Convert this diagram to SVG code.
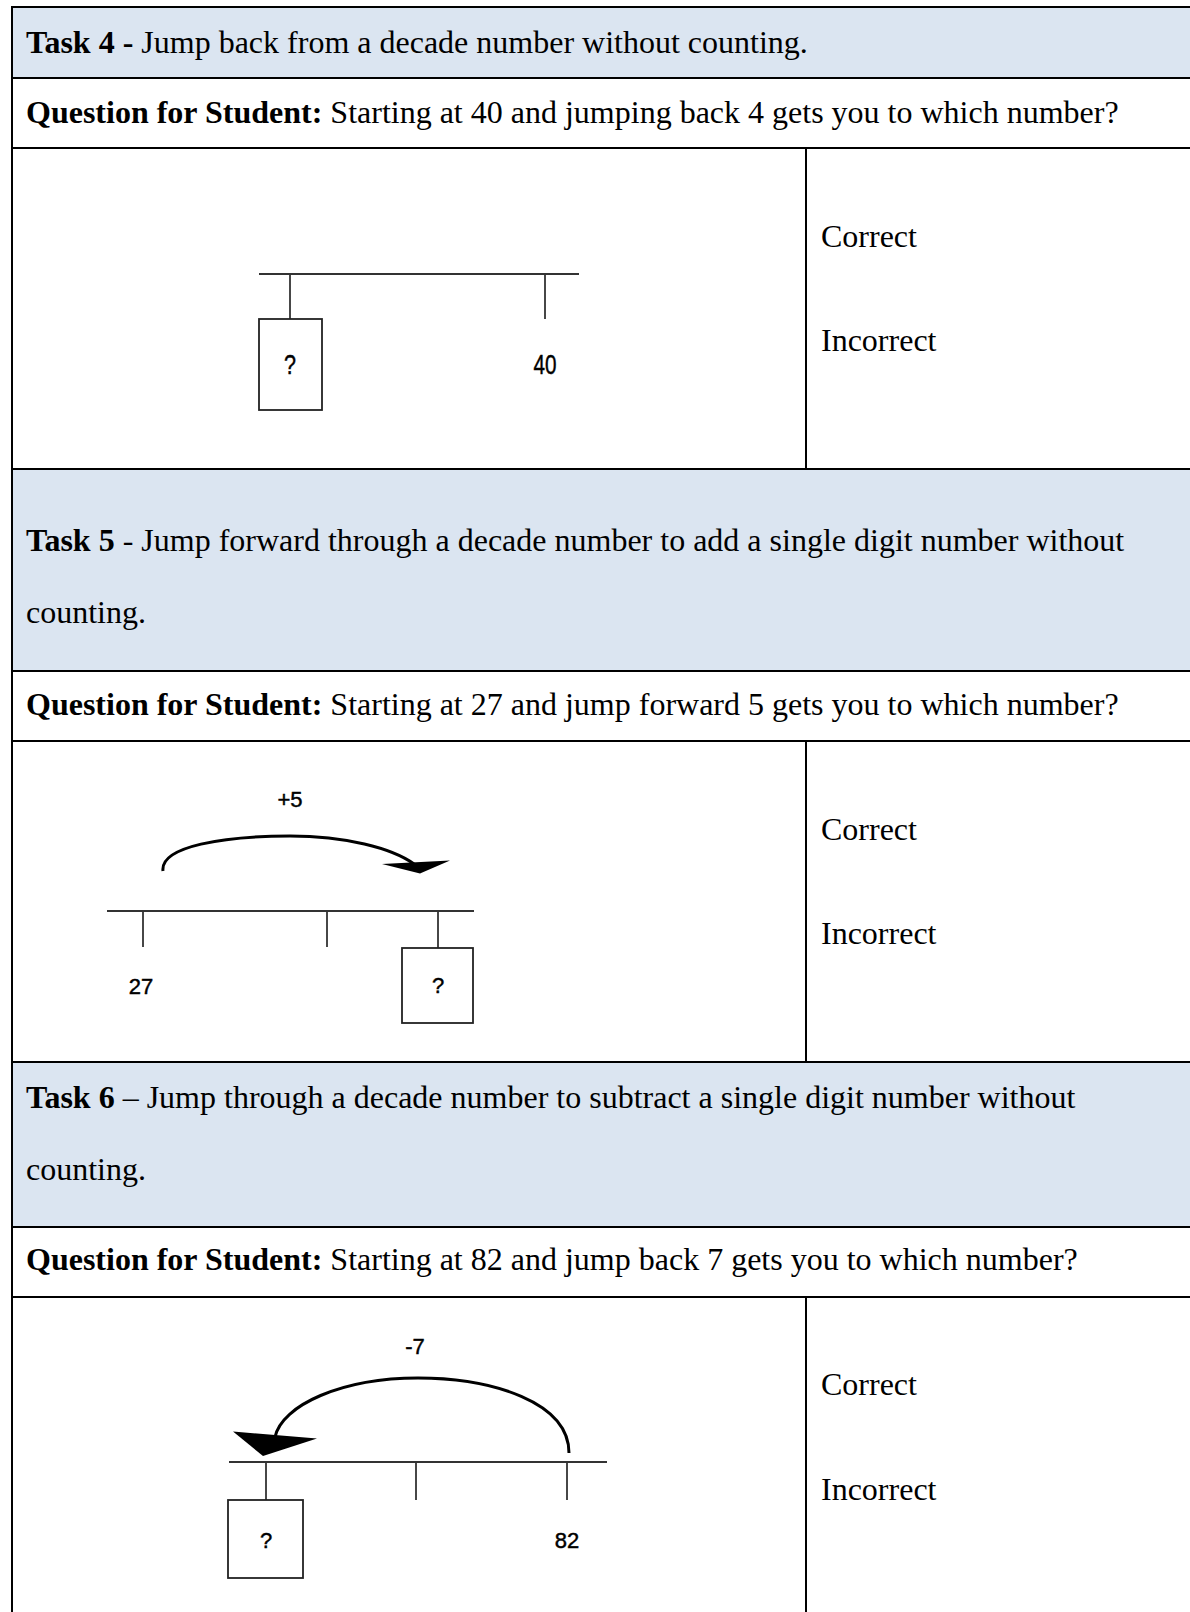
<svg xmlns="http://www.w3.org/2000/svg" width="1190" height="1612" viewBox="0 0 1190 1612">
<style>
.t{font-family:"Liberation Serif","Times New Roman",serif;font-size:32px;fill:#000}
.b{font-weight:bold}
.s{font-family:"Liberation Sans",Arial,sans-serif;font-size:22px;fill:#000;stroke:#000;stroke-width:0.45;text-anchor:middle}
.g{fill:none;stroke:#000;stroke-width:2}
.hd{fill:#DBE5F1}
.nl{stroke:#333;stroke-width:2;fill:none}
.tk{stroke:#333;stroke-width:1.8;fill:none}
.bx{fill:#fff;stroke:#222;stroke-width:1.8}
.arc{fill:none;stroke:#000;stroke-width:3}
</style>
<rect width="1190" height="1612" fill="#fff"/>
<g id="backgrounds">
<rect class="hd" x="12" y="7" width="1180" height="71"/>
<rect class="hd" x="12" y="469" width="1180" height="202"/>
<rect class="hd" x="12" y="1062" width="1180" height="165"/>
</g>
<g id="grid">
<line class="g" x1="12" y1="7" x2="1192" y2="7"/>
<line class="g" x1="12" y1="78" x2="1192" y2="78"/>
<line class="g" x1="12" y1="148" x2="1192" y2="148"/>
<line class="g" x1="12" y1="469" x2="1192" y2="469"/>
<line class="g" x1="12" y1="671" x2="1192" y2="671"/>
<line class="g" x1="12" y1="741" x2="1192" y2="741"/>
<line class="g" x1="12" y1="1062" x2="1192" y2="1062"/>
<line class="g" x1="12" y1="1227" x2="1192" y2="1227"/>
<line class="g" x1="12" y1="1297" x2="1192" y2="1297"/>
<line class="g" x1="12" y1="6" x2="12" y2="1612"/>
<line class="g" x1="806" y1="148" x2="806" y2="469"/>
<line class="g" x1="806" y1="741" x2="806" y2="1062"/>
<line class="g" x1="806" y1="1297" x2="806" y2="1612"/>
</g>
<g id="task4">
<text class="t" x="26" y="53"><tspan class="b">Task 4 -</tspan> Jump back from a decade number without counting.</text>
<text class="t" x="26" y="123"><tspan class="b">Question for Student:</tspan> Starting at 40 and jumping back 4 gets you to which number?</text>
<text class="t" x="821" y="247">Correct</text>
<text class="t" x="821" y="351">Incorrect</text>
</g>
<g id="numberline4">
<line class="nl" x1="259" y1="274" x2="579" y2="274"/>
<line class="tk" x1="290" y1="274" x2="290" y2="319"/>
<line class="tk" x1="545" y1="274" x2="545" y2="319"/>
<rect class="bx" x="259" y="319" width="63" height="91"/>
<text class="s" x="290" y="374" style="font-size:28px" textLength="12" lengthAdjust="spacingAndGlyphs">?</text>
<text class="s" x="545" y="374" style="font-size:28px" textLength="23" lengthAdjust="spacingAndGlyphs">40</text>
</g>
<g id="task5">
<text class="t" x="26" y="551"><tspan class="b">Task 5</tspan> - Jump forward through a decade number to add a single digit number without</text>
<text class="t" x="26" y="623">counting.</text>
<text class="t" x="26" y="715"><tspan class="b">Question for Student:</tspan> Starting at 27 and jump forward 5 gets you to which number?</text>
<text class="t" x="821" y="840">Correct</text>
<text class="t" x="821" y="944">Incorrect</text>
</g>
<g id="numberline5">
<line class="nl" x1="107" y1="911" x2="474" y2="911"/>
<line class="tk" x1="143" y1="911" x2="143" y2="947"/>
<line class="tk" x1="327" y1="911" x2="327" y2="947"/>
<line class="tk" x1="438" y1="911" x2="438" y2="948"/>
<rect class="bx" x="402" y="948" width="71" height="75"/>
<text class="s" x="438" y="993">?</text>
<text class="s" x="141" y="994">27</text>
<text class="s" x="290" y="807">+5</text>
</g>
<g id="task6">
<text class="t" x="26" y="1108"><tspan class="b">Task 6</tspan> – Jump through a decade number to subtract a single digit number without</text>
<text class="t" x="26" y="1180">counting.</text>
<text class="t" x="26" y="1270"><tspan class="b">Question for Student:</tspan> Starting at 82 and jump back 7 gets you to which number?</text>
<text class="t" x="821" y="1395">Correct</text>
<text class="t" x="821" y="1500">Incorrect</text>
</g>
<g id="numberline6">
<line class="nl" x1="229" y1="1462" x2="607" y2="1462"/>
<line class="tk" x1="266" y1="1462" x2="266" y2="1500"/>
<line class="tk" x1="416" y1="1462" x2="416" y2="1500"/>
<line class="tk" x1="567" y1="1462" x2="567" y2="1500"/>
<rect class="bx" x="228" y="1500" width="75" height="78"/>
<text class="s" x="266" y="1548">?</text>
<text class="s" x="567" y="1548">82</text>
<text class="s" x="415" y="1354">-7</text>
</g>
<g id="connectors">
<path class="arc" d="M163,871 C160,846 225,836 290,836 C345,836 392,848 414,864"/>
<polygon points="382,864 450,860.5 420,873.5" fill="#000"/>
<path class="arc" d="M569,1453 C569,1402 492,1378 418,1378 C342,1378 282,1405 275,1437"/>
<polygon points="233,1431.5 317,1438.5 263,1456" fill="#000"/>
</g>
</svg>
